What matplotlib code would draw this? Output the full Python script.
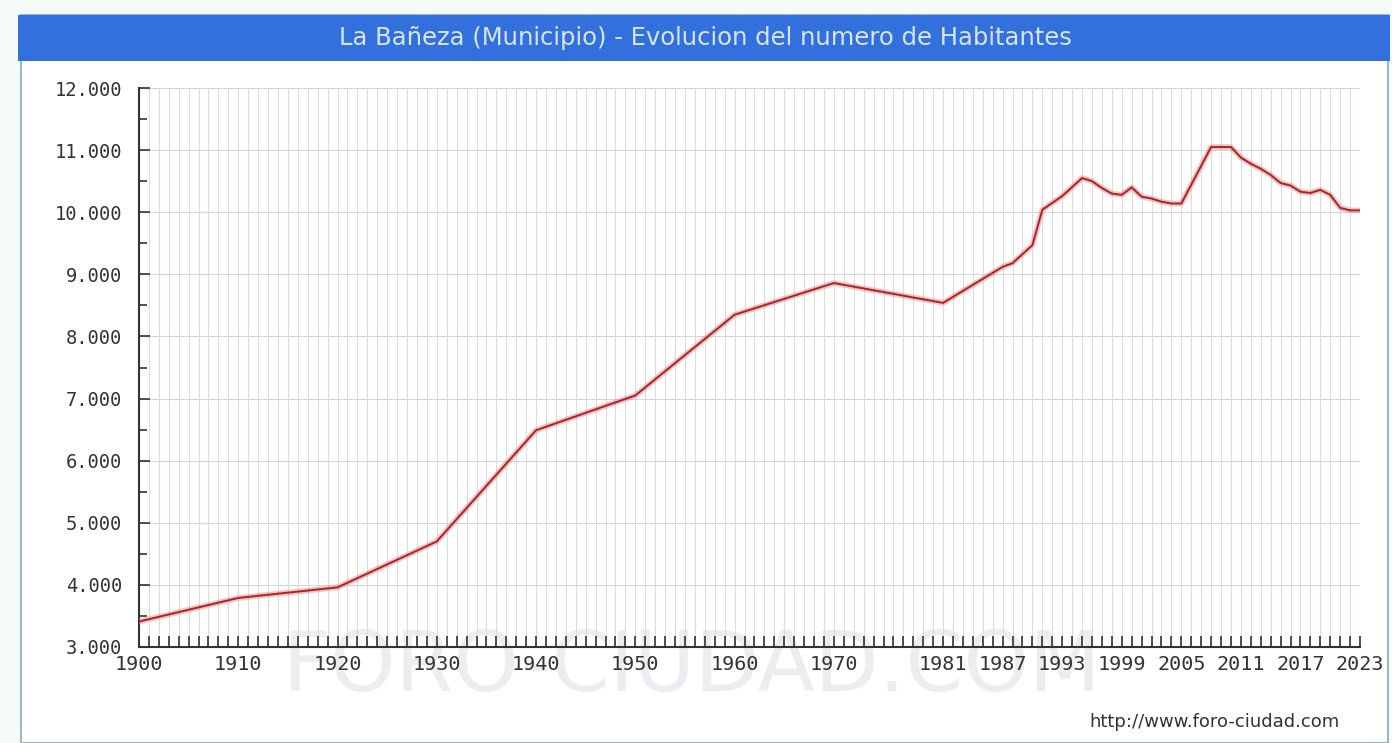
import matplotlib
matplotlib.use("Agg")
import matplotlib.pyplot as plt
from matplotlib.patches import Rectangle
from matplotlib.ticker import MultipleLocator, FixedLocator, FuncFormatter

# ---- data ----
years = [1900, 1910, 1920, 1930, 1940, 1950, 1960, 1970, 1981,
         1984, 1987, 1988, 1990, 1991, 1992, 1993, 1995, 1996, 1997,
         1998, 1999, 2000, 2001, 2002, 2003, 2004, 2005, 2008, 2010,
         2011, 2012, 2013, 2014, 2015, 2016, 2017, 2018, 2019, 2020,
         2021, 2022, 2023]
population = [3410, 3790, 3960, 4700, 6490, 7050, 8350, 8860, 8540,
              8830, 9120, 9180, 9470, 10040, 10150, 10260, 10550, 10500, 10390,
              10300, 10280, 10400, 10250, 10220, 10170, 10140, 10140, 11050, 11050,
              10880, 10780, 10700, 10600, 10470, 10430, 10330, 10310, 10360, 10280,
              10070, 10030, 10030]
xtick_years = [1900, 1910, 1920, 1930, 1940, 1950, 1960, 1970, 1981,
               1987, 1993, 1999, 2005, 2011, 2017, 2023]
ytick_values = [3000, 4000, 5000, 6000, 7000, 8000, 9000, 10000, 11000, 12000]
title = "La Bañeza (Municipio) - Evolucion del numero de Habitantes"

W, H = 1392, 743
fig = plt.figure(figsize=(W / 100, H / 100), dpi=100)
fig.patch.set_facecolor("#f6fbf8")

def fx(px):
    return px / W

def fy(py):
    return 1 - py / H

# white panel with border
panel = Rectangle((fx(21), 0), fx(1388 - 21), fy(15), transform=fig.transFigure,
                  facecolor="white", edgecolor="#9ab8c8", linewidth=1.5, zorder=-3)
fig.patches.append(panel)
# blue title bar
bar = Rectangle((fx(18), fy(61)), fx(1390 - 18), fy(15) - fy(61), transform=fig.transFigure,
                facecolor="#3170dd", edgecolor="none", zorder=-2)
fig.patches.append(bar)
fig.text(fx(705), fy(38), title, color="#d9e4f2", fontsize=17.5,
         ha="center", va="center", family="DejaVu Sans")

# watermark
fig.text(fx(692), fy(668), "FORO-CIUDAD.COM", color="#ededf1", fontsize=60,
         ha="center", va="center", zorder=-1)
fig.text(fx(1340), fy(722), "http://www.foro-ciudad.com", color="#333333",
         fontsize=13, ha="right", va="center")

ax = fig.add_axes([fx(139), fy(647), fx(1360 - 139), fy(88) - fy(647)])
ax.set_facecolor("none")
ax.set_xlim(1900, 2023)
ax.set_ylim(3000, 12000)

# grid
ax.xaxis.set_minor_locator(MultipleLocator(1))
ax.xaxis.set_major_locator(FixedLocator(xtick_years))
ax.yaxis.set_major_locator(FixedLocator(ytick_values))
ax.yaxis.set_minor_locator(MultipleLocator(500))
ax.grid(True, which="minor", axis="x", color="#dcdcdc", linewidth=0.8)
ax.grid(True, which="major", axis="x", color="#dcdcdc", linewidth=0.8)
ax.grid(True, which="major", axis="y", color="#d6d6d6", linewidth=0.8)
ax.set_axisbelow(True)

ax.yaxis.set_major_formatter(FuncFormatter(lambda v, p: f"{int(v):,}".replace(",", ".")))

ax.tick_params(axis="x", which="both", direction="in", length=8, width=1.2,
               color="#333333", labelsize=14.5, labelcolor="#333333", pad=6)
ax.tick_params(axis="y", which="major", direction="in", length=8, width=1.2,
               color="#333333", labelsize=13.5, labelcolor="#333333", pad=12)
ax.tick_params(axis="y", which="minor", direction="in", length=6, width=1.2,
               color="#333333")
for lab in ax.get_xticklabels() + ax.get_yticklabels():
    lab.set_family("DejaVu Sans Mono")

for s in ["top", "right"]:
    ax.spines[s].set_visible(False)
for s in ["left", "bottom"]:
    ax.spines[s].set_color("#333333")
    ax.spines[s].set_linewidth(1.5)

# line with soft red halo
ax.plot(years, population, color="#f08080", linewidth=4, alpha=0.5,
        solid_capstyle="round", solid_joinstyle="round", zorder=3)
ax.plot(years, population, color="#a0282c", linewidth=1.4,
        solid_joinstyle="round", zorder=4)

fig.savefig("out.png", dpi=100, facecolor=fig.get_facecolor())
